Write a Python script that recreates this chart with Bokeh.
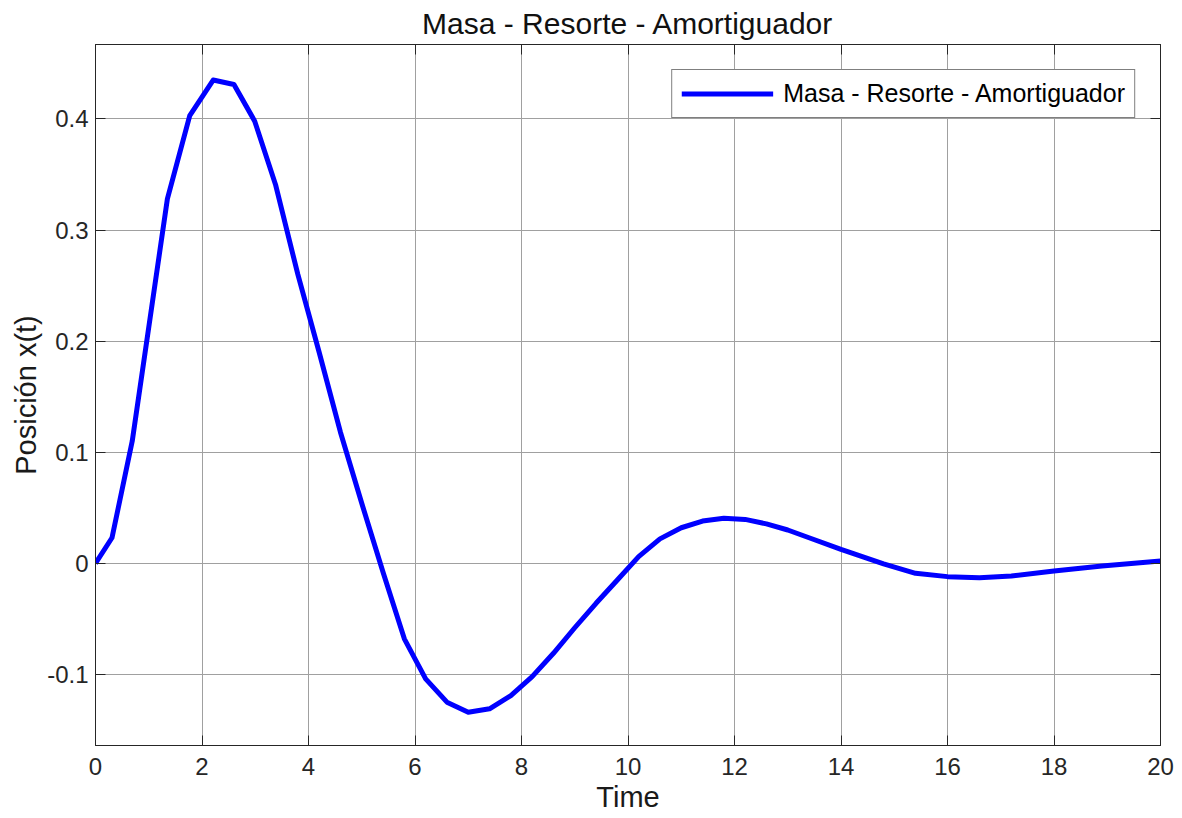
from bokeh.plotting import figure
from bokeh.models import Range1d, FixedTicker, LinearAxis, Title
from bokeh.embed import file_html
from bokeh.resources import INLINE

# ---- data ----
time = [0.0, 0.31, 0.69, 1.35, 1.77, 2.21, 2.60, 2.99, 3.38, 3.80, 4.20, 4.60,
        5.00, 5.40, 5.80, 6.20, 6.60, 7.00, 7.40, 7.80, 8.20, 8.60, 9.00, 9.40,
        9.80, 10.20, 10.60, 11.00, 11.40, 11.80, 12.20, 12.60, 13.00, 13.40,
        14.00, 14.80, 15.40, 16.00, 16.60, 17.20, 18.00, 18.90, 20.00]
position = [0.0, 0.023, 0.110, 0.328, 0.403, 0.435, 0.431, 0.398, 0.341, 0.260,
            0.190, 0.118, 0.054, -0.008, -0.068, -0.104, -0.125, -0.134, -0.131,
            -0.119, -0.102, -0.081, -0.058, -0.036, -0.015, 0.006, 0.022, 0.032,
            0.038, 0.0405, 0.0395, 0.0355, 0.030, 0.023, 0.0125, -0.0005, -0.009,
            -0.012, -0.013, -0.0115, -0.007, -0.0025, 0.002]

x_ticks = [0, 2, 4, 6, 8, 10, 12, 14, 16, 18, 20]
y_ticks = [-0.1, 0, 0.1, 0.2, 0.3, 0.4]
y_tick_labels = ["-0.1", "0", "0.1", "0.2", "0.3", "0.4"]

title_text = "Masa - Resorte - Amortiguador"
series_name = "Masa - Resorte - Amortiguador"
x_label = "Time"
y_label = "Posición x(t)"

FONT = "Liberation Sans"
AX = "#262626"
GRID = "#a0a0a0"

p = figure(width=1180, height=817, output_backend="svg", toolbar_location=None,
           title=None,
           x_range=Range1d(0, 20), y_range=Range1d(-0.164, 0.467),
           min_border_left=95, min_border_right=20, min_border_top=42,
           min_border_bottom=72,
           background_fill_color="white", border_fill_color="white")

p.outline_line_color = AX
p.outline_line_width = 1

xt = FixedTicker(ticks=x_ticks)
yt = FixedTicker(ticks=y_ticks)


def style_axis(ax, ticker, show_labels=True):
    ax.ticker = ticker
    ax.axis_line_color = AX
    ax.axis_line_width = 1
    ax.major_tick_line_color = AX
    ax.major_tick_line_width = 1
    ax.major_tick_in = 10
    ax.major_tick_out = 0
    ax.minor_tick_line_color = None
    ax.major_label_text_color = AX
    ax.major_label_text_font = FONT
    if show_labels:
        ax.major_label_text_font_size = "24px"
    else:
        ax.major_label_overrides = {t: "" for t in ticker.ticks}
        ax.major_label_text_font_size = "1px"
        ax.major_label_standoff = 0


xa = p.xaxis[0]
style_axis(xa, xt)
xa.major_label_standoff = 12
xa.axis_label = x_label
xa.axis_label_text_font = FONT
xa.axis_label_text_font_size = "29px"
xa.axis_label_text_font_style = "normal"
xa.axis_label_text_color = "#1a1a1a"
xa.axis_label_standoff = 3

ya = p.yaxis[0]
style_axis(ya, yt)
ya.major_label_standoff = 7
ya.major_label_overrides = {v: s for v, s in zip(y_ticks, y_tick_labels)}
ya.axis_label = y_label
ya.axis_label_text_font = FONT
ya.axis_label_text_font_size = "29px"
ya.axis_label_text_font_style = "normal"
ya.axis_label_text_color = "#1a1a1a"
ya.axis_label_standoff = 2

top_axis = LinearAxis()
style_axis(top_axis, xt, show_labels=False)
p.add_layout(top_axis, "above")

right_axis = LinearAxis()
style_axis(right_axis, yt, show_labels=False)
p.add_layout(right_axis, "right")

p.add_layout(Title(text=title_text, align="center", text_font=FONT,
                   text_font_size="30px", text_font_style="normal",
                   text_color="#111111", standoff=9), "above")

for g in p.xgrid:
    g.ticker = xt
    g.grid_line_color = GRID
    g.grid_line_width = 1
for g in p.ygrid:
    g.ticker = yt
    g.grid_line_color = GRID
    g.grid_line_width = 1

p.line(time, position, line_color="#0000ff", line_width=5, line_join="round",
       legend_label=series_name)

lg = p.legend[0]
lg.location = "top_right"
lg.margin = 25
lg.padding = 9
lg.spacing = 0
lg.glyph_width = 92
lg.glyph_height = 27
lg.label_height = 27
lg.label_standoff = 10
lg.label_text_font = FONT
lg.label_text_font_size = "25px"
lg.label_text_color = "#000000"
lg.border_line_color = "#000000"
lg.border_line_width = 1
lg.background_fill_color = "white"
lg.background_fill_alpha = 1.0

open("out.html", "w").write(file_html(p, INLINE))
